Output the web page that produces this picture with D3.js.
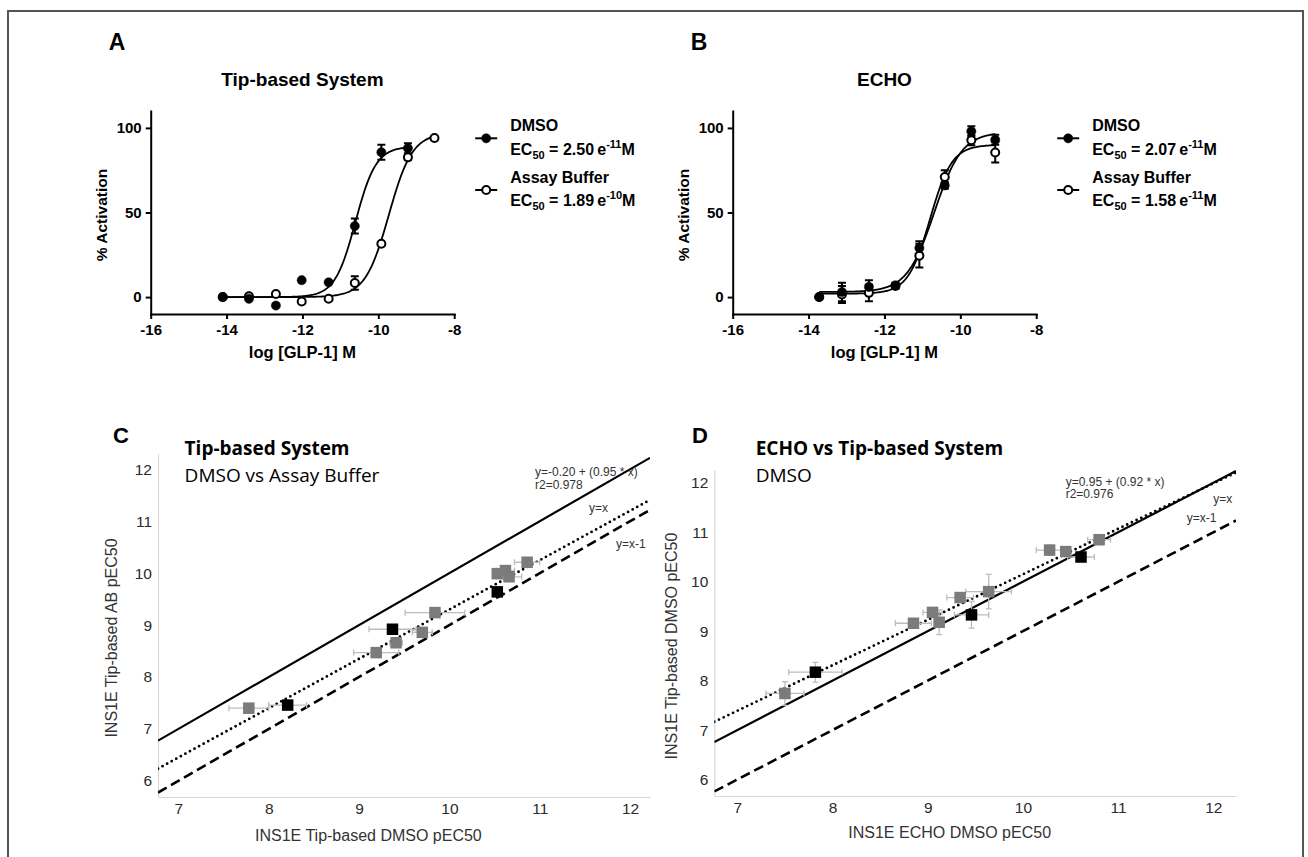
<!DOCTYPE html>
<html><head><meta charset="utf-8">
<script src="https://cdn.jsdelivr.net/npm/d3@7"></script>
<style>body{margin:0;background:#fff} svg{display:block}</style>
</head><body><svg id="c" width="1308" height="857"></svg>
<script>
// ---------------- data ----------------
const doseTicks = [-16, -14, -12, -10, -8];
const activationTicks = [0, 50, 100];
const seriesNames = ['DMSO', 'Assay Buffer'];

// Panel A (Tip-based System)
const doseA = [-14.1, -13.41, -12.7, -12.02, -11.31, -10.62, -9.92, -9.22, -8.52];
const dmsoA = [0, -1, -5, 10, 8.7, 42, 85.6, 88, null];
const dmsoAErr = [0, 0, 0, 0, 0, 4.4, 4.4, 3, null];
const bufferA = [0, 0.5, 1.8, -2.6, -1, 8.3, 31.5, 82.6, 94];
const bufferAErr = [0, 0, 0, 0, 0, 4, 0, 1.5, 1];
const fitDmsoA = [0, 89, -10.602, 1.6];      // bottom, top, logEC50, hill
const fitBufferA = [0, 97, -9.724, 1.4];
const fitRangeA = [[-14.1, -9.22], [-14.1, -8.52]];
const ec50A = ['2.50', '1.89'];
const ec50ExpA = ['-11', '-10'];

// Panel B (ECHO)
const doseB = [-13.72, -13.12, -12.41, -11.71, -11.08, -10.41, -9.71, -9.08];
const dmsoB = [0, 3, 6, 7, 29, 66, 98, 93];
const dmsoBErr = [0, 5.5, 4, 1.5, 4, 2, 3, 3];
const bufferB = [0, 1.5, 2.5, 6.5, 24.5, 71, 92.7, 85.5];
const bufferBErr = [0, 5, 5, 1.5, 7, 4, 3, 6];
const fitDmsoB = [3, 97.5, -10.684, 1.2];
const fitBufferB = [2, 90, -10.801, 1.5];
const fitRangeB = [[-13.72, -9.08], [-13.72, -9.08]];
const ec50B = ['2.07', '1.58'];
const ec50ExpB = ['-11', '-11'];

// Scatter axis ticks
const pTicks = [7, 8, 9, 10, 11, 12];

// Panel C (Tip-based DMSO vs AB)
const cGrayX = [7.78, 9.19, 9.41, 9.70, 9.84, 10.53, 10.62, 10.66, 10.86];
const cGrayY = [7.40, 8.47, 8.66, 8.86, 9.24, 9.99, 10.05, 9.93, 10.21];
const cGrayXErr = [0.22, 0.25, 0.07, 0.11, 0.33, 0.05, 0.10, 0.14, 0.14];
const cGrayYErr = [0, 0, 0, 0, 0, 0, 0, 0, 0];
const cBlackX = [8.21, 9.37, 10.53];
const cBlackY = [7.46, 8.92, 9.64];
const cBlackXErr = [0.21, 0.26, 0.05];
const cBlackYErr = [0, 0, 0];
const cIntercepts = [0, -0.20, -1];   // y=x, regression, y=x-1
const cSlopes = [1, 0.95, 1];

// Panel D (ECHO vs Tip-based DMSO)
const dGrayX = [7.50, 8.85, 9.05, 9.12, 9.34, 9.64, 10.28, 10.45, 10.80];
const dGrayY = [7.74, 9.16, 9.38, 9.18, 9.68, 9.80, 10.64, 10.61, 10.85];
const dGrayXErr = [0.20, 0.19, 0.10, 0.05, 0.14, 0.24, 0.14, 0.05, 0.12];
const dGrayYErr = [0.24, 0.05, 0.05, 0.25, 0.05, 0.35, 0.10, 0.05, 0.10];
const dBlackX = [7.82, 9.46, 10.61];
const dBlackY = [8.17, 9.33, 10.50];
const dBlackXErr = [0.28, 0.18, 0.14];
const dBlackYErr = [0.20, 0.27, 0.05];
const dIntercepts = [0, 0.95, -1];
const dSlopes = [1, 0.92, 1];

// ---------------- drawing ----------------
const svg = d3.select('#c');
svg.append('rect').attr('width', 1308).attr('height', 857).attr('fill', '#fff');
svg.append('path').attr('d', 'M8,860V11H1303V860').attr('fill', 'none')
  .attr('stroke', '#555').attr('stroke-width', 2);

const ARIAL = "'Liberation Sans', Arial, sans-serif";
const SEGOE = "'Open Sans', 'Noto Sans', sans-serif";

function logistic(p, x) { return p[0] + (p[1] - p[0]) / (1 + Math.pow(10, (p[2] - x) * p[3])); }

function dosePanel(o) {
  const g = svg.append('g').attr('font-family', ARIAL).attr('font-weight', 'bold');
  const x = d3.scaleLinear().domain([-16, -8]).range([o.x0, o.x0 + 303.5]);
  const y = d3.scaleLinear().domain([-10, 110]).range([314, 111]);

  const xa = g.append('g').attr('transform', 'translate(0,314)')
    .call(d3.axisBottom(x).tickValues(doseTicks).tickSize(5).tickSizeOuter(0).tickPadding(5).tickFormat(d => String(d)));
  const ya = g.append('g').attr('transform', `translate(${o.x0},0)`)
    .call(d3.axisLeft(y).tickValues(activationTicks).tickSize(5).tickSizeOuter(0).tickPadding(4).tickFormat(d => String(d)));
  [xa, ya].forEach(a => {
    a.selectAll('.domain').attr('stroke', '#000').attr('stroke-width', 2).attr('stroke-linecap', 'square');
    a.selectAll('.tick line').attr('stroke', '#000').attr('stroke-width', 2);
    a.selectAll('.tick text').attr('font-family', ARIAL).attr('font-weight', 'bold')
      .attr('font-size', 15).attr('fill', '#000');
  });

  // titles & labels
  g.append('text').attr('x', o.x0 - 42).attr('y', 50).attr('font-size', 23).text(o.letter);
  g.append('text').attr('x', (x.range()[0] + x.range()[1]) / 2).attr('y', 86).attr('text-anchor', 'middle')
    .attr('font-size', 19).text(o.title);
  g.append('text').attr('transform', `translate(${o.x0 - 44},215) rotate(-90)`).attr('text-anchor', 'middle')
    .attr('font-size', 15.5).text('% Activation');
  g.append('text').attr('x', (x.range()[0] + x.range()[1]) / 2).attr('y', 358).attr('text-anchor', 'middle')
    .attr('font-size', 16.5).text('log [GLP-1] M');

  const series = [
    { v: o.buffer, e: o.bufferErr, fit: o.fitBuffer, r: o.fitRange[1], open: true },
    { v: o.dmso, e: o.dmsoErr, fit: o.fitDmso, r: o.fitRange[0], open: false }
  ];
  const line = d3.line().x(d => x(d[0])).y(d => y(d[1])).curve(d3.curveLinear);
  series.forEach(s => {
    const pts = d3.range(s.r[0], s.r[1] + 1e-9, (s.r[1] - s.r[0]) / 200).map(t => [t, logistic(s.fit, t)]);
    g.append('path').attr('d', line(pts)).attr('fill', 'none').attr('stroke', '#000').attr('stroke-width', 1.8);
  });
  series.forEach(s => {
    o.dose.forEach((d, i) => {
      if (s.v[i] == null || !s.e[i]) return;
      const cx = x(d), y1 = y(s.v[i] - s.e[i]), y2 = y(s.v[i] + s.e[i]);
      g.append('path').attr('d', `M${cx},${y1}V${y2}M${cx - 4},${y1}H${cx + 4}M${cx - 4},${y2}H${cx + 4}`)
        .attr('stroke', '#000').attr('stroke-width', 2).attr('fill', 'none');
    });
  });
  series.forEach(s => {
    o.dose.forEach((d, i) => {
      if (s.v[i] == null) return;
      g.append('circle').attr('cx', x(d)).attr('cy', y(s.v[i]))
        .attr('r', s.open ? 4 : 4.6)
        .attr('fill', s.open ? '#fff' : '#000').attr('stroke', '#000').attr('stroke-width', s.open ? 2 : 0.5);
    });
  });

  // legend
  const lx = x.range()[1] + 21, tx = x.range()[1] + 56;
  const rows = [[125, 138.3, 155], [177, 190, 206]];
  seriesNames.forEach((name, k) => {
    const [yName, yMark, yEc] = rows[k];
    g.append('path').attr('d', `M${lx},${yMark}H${lx + 22}`).attr('stroke', '#000').attr('stroke-width', 2);
    g.append('circle').attr('cx', lx + 11).attr('cy', yMark).attr('r', k === 0 ? 4.6 : 4)
      .attr('fill', k === 0 ? '#000' : '#fff').attr('stroke', '#000').attr('stroke-width', k === 0 ? 0.5 : 2);
    g.append('text').attr('x', tx).attr('y', yName + 6).attr('font-size', 16).text(name);
    const t = g.append('text').attr('x', tx).attr('y', yEc).attr('font-size', 16);
    t.append('tspan').text('EC');
    t.append('tspan').attr('dy', 4).attr('font-size', 11).text('50');
    t.append('tspan').attr('dy', -4).text(' = ' + o.ec50[k] + '\u2009e');
    t.append('tspan').attr('dy', -7).attr('font-size', 11).text(o.ec50Exp[k]);
    t.append('tspan').attr('dy', 7).text('M');
  });
}

dosePanel({ x0: 150.7, letter: 'A', title: 'Tip-based System', dose: doseA,
  dmso: dmsoA, dmsoErr: dmsoAErr, buffer: bufferA, bufferErr: bufferAErr,
  fitDmso: fitDmsoA, fitBuffer: fitBufferA, fitRange: fitRangeA, ec50: ec50A, ec50Exp: ec50ExpA });
dosePanel({ x0: 732.7, letter: 'B', title: 'ECHO', dose: doseB,
  dmso: dmsoB, dmsoErr: dmsoBErr, buffer: bufferB, bufferErr: bufferBErr,
  fitDmso: fitDmsoB, fitBuffer: fitBufferB, fitRange: fitRangeB, ec50: ec50B, ec50Exp: ec50ExpB });

let clipId = 0;
function scatterPanel(o) {
  const g = svg.append('g').attr('font-family', ARIAL);
  const x = d3.scaleLinear().domain(o.xd).range(o.xr);
  const y = d3.scaleLinear().domain(o.yd).range(o.yr);

  const xa = g.append('g').attr('transform', `translate(0,${o.yr[0]})`)
    .call(d3.axisBottom(x).tickValues(pTicks).tickSize(0).tickPadding(6).tickFormat(d => String(d)));
  const ya = g.append('g').attr('transform', `translate(${o.xr[0]},0)`)
    .call(d3.axisLeft(y).tickValues(pTicks.concat([6])).tickSize(0).tickPadding(6).tickFormat(d => String(d)));
  [xa, ya].forEach(a => {
    a.selectAll('.domain').attr('stroke', '#d9d9d9').attr('stroke-width', 1.2);
    a.selectAll('.tick text').attr('font-family', ARIAL).attr('font-size', 15.5).attr('fill', '#2b2b2b');
  });

  // reference & regression lines
  const id = 'clip' + (clipId++);
  g.append('clipPath').attr('id', id).append('rect')
    .attr('x', o.xr[0]).attr('y', o.yr[1]).attr('width', o.xr[1] - o.xr[0]).attr('height', o.yr[0] - o.yr[1]);
  const styles = [
    { w: 2.2, dash: null, cap: 'butt' },
    { w: 2.8, dash: '0,5.2', cap: 'round' },
    { w: 2.6, dash: '10,5', cap: 'butt' }
  ];
  o.intercepts.forEach((b, i) => {
    const st = styles[i];
    const x0 = o.xd[0], x1 = o.xd[1];
    g.append('path').attr('clip-path', `url(#${id})`)
      .attr('d', d3.line()([[x(x0), y(b + o.slopes[i] * x0)], [x(x1), y(b + o.slopes[i] * x1)]]))
      .attr('stroke', '#000').attr('stroke-width', st.w).attr('fill', 'none')
      .attr('stroke-dasharray', st.dash).attr('stroke-linecap', st.cap);
  });

  // error bars
  const groups = [
    { X: o.grayX, Y: o.grayY, XE: o.grayXErr, YE: o.grayYErr, fill: '#7b7b7b' },
    { X: o.blackX, Y: o.blackY, XE: o.blackXErr, YE: o.blackYErr, fill: '#000' }
  ];
  groups.forEach(gr => {
    gr.X.forEach((v, i) => {
      const cx = x(v), cy = y(gr.Y[i]);
      let d = '';
      if (gr.XE[i]) { const a = x(v - gr.XE[i]), b = x(v + gr.XE[i]); d += `M${a},${cy}H${b}M${a},${cy - 3}V${cy + 3}M${b},${cy - 3}V${cy + 3}`; }
      if (gr.YE[i]) { const a = y(gr.Y[i] - gr.YE[i]), b = y(gr.Y[i] + gr.YE[i]); d += `M${cx},${a}V${b}M${cx - 3},${a}H${cx + 3}M${cx - 3},${b}H${cx + 3}`; }
      if (d) g.append('path').attr('d', d).attr('stroke', '#bdbdbd').attr('stroke-width', 1.3).attr('fill', 'none');
    });
  });
  groups.forEach(gr => {
    gr.X.forEach((v, i) => {
      g.append('rect').attr('x', x(v) - 5.75).attr('y', y(gr.Y[i]) - 5.75).attr('width', 11.5).attr('height', 11.5)
        .attr('fill', gr.fill);
    });
  });

  // texts
  g.append('text').attr('x', o.letterX).attr('y', 443).attr('font-size', 22).attr('font-weight', 'bold').text(o.letter);
  g.append('text').attr('x', o.titleX).attr('y', 455).attr('font-family', SEGOE).attr('font-weight', 'bold')
    .attr('font-size', 19).text(o.title);
  g.append('text').attr('x', o.titleX).attr('y', 482).attr('font-family', SEGOE)
    .attr('font-size', 19).text(o.subtitle);
  g.append('text').attr('x', o.xlabX).attr('y', o.xlabY).attr('font-size', 16).attr('fill', '#333').text(o.xlabel);
  g.append('text').attr('transform', `translate(${o.ylabX},${o.ylabY}) rotate(-90)`).attr('text-anchor', 'middle')
    .attr('font-size', 16).attr('fill', '#333').text(o.ylabel);
  o.notes.forEach(n => {
    g.append('text').attr('x', n[0]).attr('y', n[1]).attr('font-size', 12).attr('fill', '#333').text(n[2]);
  });
}

scatterPanel({
  xd: [6.775, 12.22], xr: [158, 650], yd: [5.69, 12.3], yr: [797, 453.7],
  grayX: cGrayX, grayY: cGrayY, grayXErr: cGrayXErr, grayYErr: cGrayYErr,
  blackX: cBlackX, blackY: cBlackY, blackXErr: cBlackXErr, blackYErr: cBlackYErr,
  intercepts: cIntercepts, slopes: cSlopes,
  letter: 'C', letterX: 113, title: 'Tip-based System', subtitle: 'DMSO vs Assay Buffer', titleX: 184.6,
  xlabel: 'INS1E Tip-based DMSO pEC50', xlabX: 255, xlabY: 841,
  ylabel: 'INS1E Tip-based AB pEC50', ylabX: 117, ylabY: 638,
  notes: [[535, 476, 'y=-0.20 + (0.95 * x)'], [535, 488.5, 'r2=0.978'], [589, 511.5, 'y=x'], [616, 548, 'y=x-1']]
});
scatterPanel({
  xd: [6.758, 12.238], xr: [714.3, 1236], yd: [5.666, 12.26], yr: [796, 470],
  grayX: dGrayX, grayY: dGrayY, grayXErr: dGrayXErr, grayYErr: dGrayYErr,
  blackX: dBlackX, blackY: dBlackY, blackXErr: dBlackXErr, blackYErr: dBlackYErr,
  intercepts: dIntercepts, slopes: dSlopes,
  letter: 'D', letterX: 692, title: 'ECHO vs Tip-based System', subtitle: 'DMSO', titleX: 755.7,
  xlabel: 'INS1E ECHO DMSO pEC50', xlabX: 848.3, xlabY: 837.5,
  ylabel: 'INS1E Tip-based DMSO pEC50', ylabX: 677, ylabY: 646,
  notes: [[1065.7, 486, 'y=0.95 + (0.92 * x)'], [1065.7, 497.5, 'r2=0.976'], [1213.3, 502.5, 'y=x'], [1186.7, 522, 'y=x-1']]
});
</script></body></html>
